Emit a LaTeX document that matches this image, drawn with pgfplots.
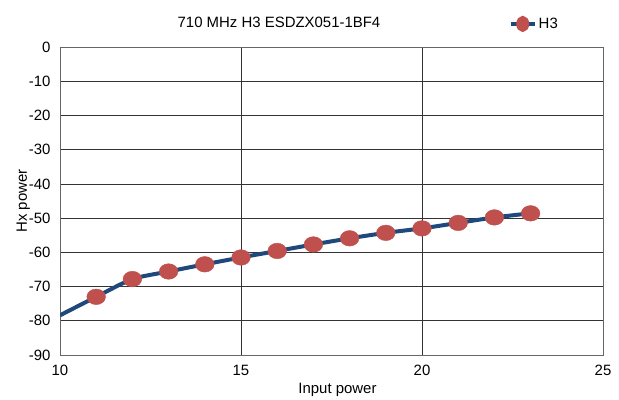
\documentclass[border=0pt]{standalone}
\usepackage{pgfplots}
\pgfplotsset{compat=1.18}
\usepackage{fontspec}
\setmainfont{Liberation Sans}
\definecolor{lineblue}{RGB}{31,73,125}
\definecolor{markred}{RGB}{192,80,77}
\begin{document}
\begin{tikzpicture}[x=1bp,y=1bp]
\begin{axis}[
  at={(0,0)}, anchor=south west,
  scale only axis, width=543bp, height=308bp,
  xmin=10, xmax=25, ymin=-90, ymax=0,
  xtick={10,15,20,25}, ytick={-90,-80,...,0},
  grid=major,
  major grid style={black!80, line width=0.6pt},
  axis line style={black!60, line width=0.8pt},
  major tick length=0pt,
  tick label style={font=\fontsize{15}{17}\selectfont},
  yticklabel style={xshift=-6bp},
  xticklabel style={yshift=-7bp},
  /pgf/number format/assume math mode=true,
  xlabel={Input power}, ylabel={Hx power},
  label style={font=\fontsize{15}{17}\selectfont},
  xlabel style={yshift=0bp, xshift=6bp},
  ylabel style={yshift=-8bp},
  legend style={at={(0.826,1.075)}, anchor=west, draw=none, fill=none,
    font=\fontsize{15}{17}\selectfont, inner sep=0pt},
  legend cell align=left,
  legend image code/.code={
    \draw[lineblue, line width=4bp] (0bp,0bp) -- (24bp,0bp);
    \fill[markred] (12bp,0bp) ellipse [x radius=4.5bp, y radius=6bp];
  },
]
\addplot[lineblue, line width=4bp, smooth, tension=0.4] coordinates {
(10,-78.4) (11,-73.0) (12,-67.8) (13,-65.6) (14,-63.5) (15,-61.5) (16,-59.6)
(17,-57.7) (18,-55.9) (19,-54.3) (20,-53.0) (21,-51.4) (22,-49.8) (23,-48.6)
};
\addlegendentry{H3}
\addplot[only marks, mark=*, mark size=7.8bp, mark options={fill=markred, draw=markred, xscale=1.2}] coordinates {
(11,-73.0) (12,-67.8) (13,-65.6) (14,-63.5) (15,-61.5) (16,-59.6)
(17,-57.7) (18,-55.9) (19,-54.3) (20,-53.0) (21,-51.4) (22,-49.8) (23,-48.6)
};
\end{axis}
\node[font=\fontsize{15}{17}\selectfont] at (219bp,333bp) {710 MHz H3 ESDZX051-1BF4};
\path[use as bounding box] (-60bp,-45bp) rectangle (559bp,355bp);
\end{tikzpicture}
\end{document}
